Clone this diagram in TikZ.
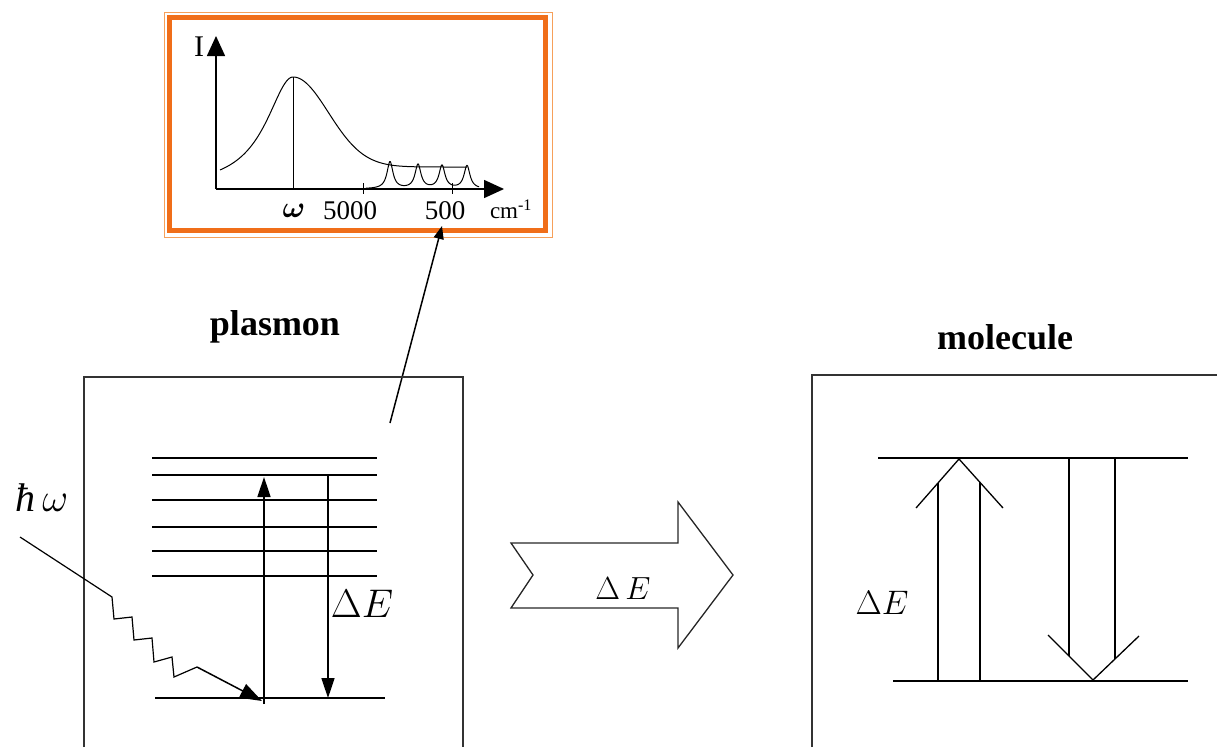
\RequirePackage{fix-cm}
\documentclass[tikz,border=0pt]{standalone}
\usepackage{amsmath}
\usepackage[no-math]{fontspec}
\setmainfont{Liberation Serif}
\usetikzlibrary{arrows.meta}
\definecolor{frameorange}{RGB}{240,110,25}
\definecolor{framelight}{RGB}{246,160,90}
\begin{document}
\begin{tikzpicture}[x=1pt,y=-1pt,
  thinline/.style={line width=1pt,black},
  levelline/.style={line width=1.5pt,black},
  boxline/.style={line width=1.5pt,black!80},
  filltip/.style={-{Triangle[length=20pt,width=13pt]}},
  phototip/.style={-{Triangle[length=22pt,width=15pt]}},
  axistip/.style={-{Triangle[length=20pt,width=18pt]}},
  smalltip/.style={-{Triangle[length=13pt,width=10pt]}},
  lbl/.style={inner sep=0pt},
  titlefont/.style={font=\bfseries\fontsize{36}{40}\selectfont}]
\useasboundingbox (0,0) rectangle (1217,747);
% ---------- orange frame with spectrum ----------
\draw[framelight,line width=1pt] (164,12) rectangle (552,237);
\draw[frameorange,line width=5pt] (169.5,17.5) rectangle (545.5,230.5);
\coordinate (O) at (216,189);
\coordinate (ytop) at (216,36);
\coordinate (xend) at (504,189);
\draw[thinline,line width=1.5pt,axistip] (O) -- (ytop);
\draw[thinline,line width=1.5pt,axistip] (O) -- (xend);
\node[lbl,font=\fontsize{30}{32}\selectfont] (Ilab) at (199,47) {I};
\coordinate (peak) at (293,77);
\coordinate (peakfoot) at (293,189);
\draw[thinline] (peak) -- (peakfoot);
\draw[thinline] plot[domain=220:293,samples=80] (\x,{189-112/(1+((\x-293)/33)^2)});
\draw[thinline] plot[domain=293:467,samples=150] (\x,{189-22-90*exp(-((\x-293)/50)^2)});
\draw[thinline] plot[domain=366:479,samples=300] (\x,{189-27/(1+((\x-390)/3.6)^2)-24/(1+((\x-418)/3.6)^2)-23/(1+((\x-442)/3.6)^2)-23/(1+((\x-467)/3.6)^2)});
\coordinate (t1a) at (363,183); \coordinate (t1b) at (363,194);
\coordinate (t2a) at (452,183); \coordinate (t2b) at (452,194);
\draw[thinline] (t1a) -- (t1b);
\draw[thinline] (t2a) -- (t2b);
\node[lbl,font=\fontsize{30}{32}\selectfont] (omlab) at (294,211) {$\boldsymbol{\omega}$};
\node[lbl,font=\fontsize{27}{29}\selectfont] (l5000) at (350,211) {5000};
\node[lbl,font=\fontsize{27}{29}\selectfont] (l500) at (445,211) {500};
\node[lbl,font=\fontsize{23}{25}\selectfont] (lcm) at (511,209) {cm\textsuperscript{-1}};
% ---------- plasmon ----------
\node[lbl,titlefont] (plasmon) at (275,327) {plasmon};
\coordinate (ptrS) at (390,423);
\coordinate (ptrE) at (442,226);
\draw[thinline,line width=1.5pt,smalltip] (ptrS) -- (ptrE);
\draw[boxline] (84,747) -- (84,377) -- (463,377) -- (463,747);
\foreach \yy in {458,475,500,527,551,576} \draw[levelline] (152,\yy) -- (377,\yy);
\coordinate (g1) at (155,698); \coordinate (g2) at (385,698);
\draw[levelline] (g1) -- (g2);
\coordinate (upS) at (264,704); \coordinate (upE) at (264,477);
\draw[levelline,filltip] (upS) -- (upE);
\coordinate (dnS) at (328,475); \coordinate (dnE) at (328,698);
\draw[levelline,filltip] (dnS) -- (dnE);
\node[lbl,font=\fontsize{40}{44}\selectfont] (dEleft) at (362,604) {$\Delta E$};
\node[lbl,font=\fontsize{40}{44}\selectfont] (hw) at (42,498) {\itshape ħ\,$\omega$};
\coordinate (ph0) at (20,537);
\coordinate (phtip) at (262,701);
\draw[thinline,line width=1.2pt] (ph0) -- (112,597) -- (114,619) -- (132,617) -- (134,640) -- (152,638) -- (154,662) -- (172,657) -- (174,677) -- (197,667);
\draw[levelline,phototip] (197,667) -- (phtip);
% ---------- block arrow ----------
\draw[line width=1.3pt,black!85,line join=miter] (511,543) -- (678,543) -- (678,502) -- (733,575) -- (678,648) -- (678,608) -- (511,608) -- (533,575) -- cycle;
\node[lbl,font=\fontsize{32}{36}\selectfont] (dEmid) at (623,589) {$\Delta\,E$};
% ---------- molecule ----------
\node[lbl,titlefont] (molecule) at (1005,337) {molecule};
\draw[boxline] (812,747) -- (812,375) -- (1217,375);
\coordinate (m1) at (878,458); \coordinate (m2) at (1188,458);
\coordinate (m3) at (893,681); \coordinate (m4) at (1188,681);
\draw[levelline] (m1) -- (m2);
\draw[levelline] (m3) -- (m4);
\draw[thinline,line width=1.3pt] (938,681) -- (938,483);
\draw[thinline,line width=1.3pt] (980,681) -- (980,482);
\draw[thinline,line width=1.3pt] (916,508) -- (959,459) -- (1003,508);
\draw[thinline,line width=1.3pt] (1069,458) -- (1069,656);
\draw[thinline,line width=1.3pt] (1115,458) -- (1115,659);
\draw[thinline,line width=1.3pt] (1048,635) -- (1093,680) -- (1139,636);
\node[lbl,font=\fontsize{34}{38}\selectfont] (dEright) at (882,603) {$\Delta E$};
\end{tikzpicture}
\end{document}
